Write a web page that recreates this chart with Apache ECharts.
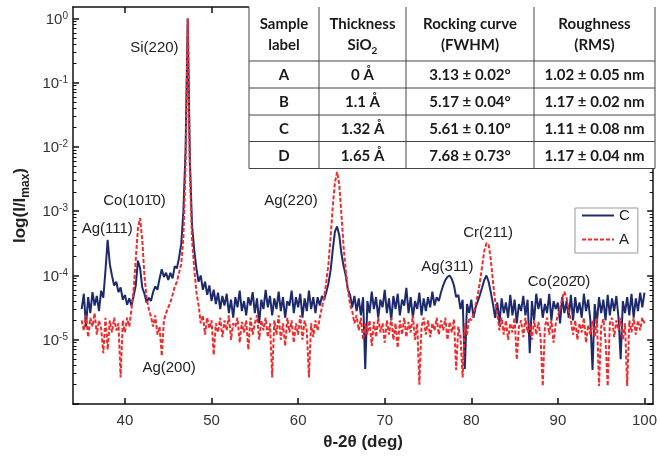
<!DOCTYPE html>
<html>
<head>
<meta charset="utf-8">
<script src="https://cdn.jsdelivr.net/npm/echarts@6/dist/echarts.min.js"></script>
<style>html,body{margin:0;padding:0;background:#fff}#c{width:660px;height:457px}</style>
</head>
<body>
<div id="c"></div>
<script>
// ---- data ----
const theta = [
35,35.25,35.5,35.75,36,36.25,36.5,36.75,37,37.25,37.5,37.75,38,38.25,38.5,38.75,39,39.25,39.5,39.75,
40,40.25,40.5,40.75,41,41.25,41.5,41.75,42,42.25,42.5,42.75,43,43.25,43.5,43.75,44,44.25,44.5,44.75,
45,45.25,45.5,45.75,46,46.25,46.5,46.75,47,47.25,47.5,47.75,48,48.25,48.5,48.75,49,49.25,49.5,49.75,
50,50.25,50.5,50.75,51,51.25,51.5,51.75,52,52.25,52.5,52.75,53,53.25,53.5,53.75,54,54.25,54.5,54.75,
55,55.25,55.5,55.75,56,56.25,56.5,56.75,57,57.25,57.5,57.75,58,58.25,58.5,58.75,59,59.25,59.5,59.75,
60,60.25,60.5,60.75,61,61.25,61.5,61.75,62,62.25,62.5,62.75,63,63.25,63.5,63.75,64,64.25,64.5,64.75,
65,65.25,65.5,65.75,66,66.25,66.5,66.75,67,67.25,67.5,67.75,68,68.25,68.5,68.75,69,69.25,69.5,69.75,
70,70.25,70.5,70.75,71,71.25,71.5,71.75,72,72.25,72.5,72.75,73,73.25,73.5,73.75,74,74.25,74.5,74.75,
75,75.25,75.5,75.75,76,76.25,76.5,76.75,77,77.25,77.5,77.75,78,78.25,78.5,78.75,79,79.25,79.5,79.75,
80,80.25,80.5,80.75,81,81.25,81.5,81.75,82,82.25,82.5,82.75,83,83.25,83.5,83.75,84,84.25,84.5,84.75,
85,85.25,85.5,85.75,86,86.25,86.5,86.75,87,87.25,87.5,87.75,88,88.25,88.5,88.75,89,89.25,89.5,89.75,
90,90.25,90.5,90.75,91,91.25,91.5,91.75,92,92.25,92.5,92.75,93,93.25,93.5,93.75,94,94.25,94.5,94.75,
95,95.25,95.5,95.75,96,96.25,96.5,96.75,97,97.25,97.5,97.75,98,98.25,98.5,98.75,99,99.25,99.5,99.75,
100
];
const sampleC = [
3.0e-5,5.2e-5,1.6e-5,4.6e-5, 2.6e-5,5.5e-5,3.4e-5,4.8e-5, 2.8e-5,5.8e-5,4.5e-5,1.2e-4, 3.6e-4,1.5e-4,1.0e-4,7.0e-5, 8.0e-5,5.5e-5,6.5e-5,4.2e-5,
5.0e-5,3.5e-5,4.4e-5,3.4e-5, 4.8e-5,7.0e-5,1.7e-4,1.3e-4, 6.5e-5,5.2e-5,3.8e-5,4.5e-5, 4.0e-5,5.5e-5,6.8e-5,6.0e-5, 9.0e-5,1.25e-4,9.5e-5,1.1e-4,
8.5e-5,1.1e-4,9.0e-5,1.4e-4, 1.3e-4,1.9e-4,3.1e-4,1.0e-3, 9.0e-3,1.0,6.0e-3,6.0e-4, 2.5e-4,1.3e-4,8.0e-5,1.0e-4, 6.0e-5,8.0e-5,5.0e-5,7.0e-5,
4.0e-5,6.0e-5,3.6e-5,5.4e-5, 3.0e-5,4.8e-5,3.4e-5,5.2e-5, 2.6e-5,4.2e-5,2.2e-5,4.6e-5, 3.2e-5,5.8e-5,2.8e-5,4.0e-5, 2.4e-5,4.6e-5,3.4e-5,5.5e-5,
2.6e-5,4.4e-5,1.8e-5,4.2e-5, 3.0e-5,6.0e-5,3.2e-5,4.8e-5, 2.4e-5,4.4e-5,3.0e-5,5.6e-5, 2.8e-5,4.6e-5,2.2e-5,4.0e-5, 3.4e-5,5.8e-5,2.6e-5,4.6e-5,
3.2e-5,5.2e-5,2.2e-5,4.4e-5, 2.8e-5,5.8e-5,3.0e-5,4.6e-5, 2.6e-5,4.6e-5,3.4e-5,4.8e-5, 4.2e-5,5.5e-5,7.5e-5,1.2e-4, 2.5e-4,4.8e-4,5.8e-4,4.2e-4,
2.2e-4,1.4e-4,1.0e-4,6.0e-5, 5.0e-5,3.2e-5,4.8e-5,2.8e-5, 4.4e-5,2.4e-5,4.6e-5,3.5e-6, 4.0e-5,2.6e-5,5.6e-5,3.0e-5, 4.6e-5,2.2e-5,4.2e-5,3.2e-5,
6.0e-5,2.6e-5,4.4e-5,2.0e-5, 4.8e-5,3.0e-5,5.2e-5,2.4e-5, 4.2e-5,3.4e-5,6.4e-5,2.6e-5, 4.6e-5,2.2e-5,4.0e-5,3.0e-5, 5.4e-5,2.4e-5,4.4e-5,2.8e-5,
4.6e-5,3.2e-5,5.6e-5,3.4e-5, 4.6e-5,4.0e-5,5.5e-5,7.0e-5, 8.5e-5,9.5e-5,1.0e-4,8.8e-5, 7.0e-5,4.6e-5,5.0e-5,3.0e-5, 4.2e-5,3.5e-6,3.6e-5,2.6e-5,
4.2e-5,2.2e-5,3.2e-5,4.0e-5, 5.0e-5,6.5e-5,8.5e-5,1.0e-4, 8.0e-5,5.5e-5,3.6e-5,2.2e-5, 3.8e-5,1.8e-5,4.4e-5,2.6e-5, 3.8e-5,2.2e-5,5.0e-5,2.4e-5,
4.2e-5,1.8e-5,3.6e-5,2.8e-5, 4.8e-5,2.4e-5,4.2e-5,6.2e-6, 4.0e-5,2.0e-5,5.2e-5,3.0e-5, 4.4e-5,2.2e-5,3.6e-5,2.6e-5, 5.2e-5,2.0e-5,4.0e-5,3.0e-5,
3.8e-5,1.8e-5,4.6e-5,2.6e-5, 4.0e-5,2.2e-5,5.0e-5,2.0e-5, 4.6e-5,2.6e-5,3.8e-5,2.2e-5, 5.2e-5,2.8e-5,4.2e-5,2.0e-5, 3.4e-6,3.6e-5,1.8e-5,4.6e-5,
2.6e-5,4.2e-5,2.0e-5,5.0e-5, 2.4e-5,4.4e-5,2.8e-5,4.8e-5, 2.2e-5,5.0e-6,4.0e-5,2.6e-5, 4.6e-5,2.4e-5,5.2e-5,2.2e-5, 4.4e-5,2.8e-5,5.4e-5,3.2e-5,
5.4e-5
];
const sampleA = [
2.0e-5,1.4e-5,2.4e-5,1.1e-5, 2.2e-5,1.6e-5,2.6e-5,1.2e-5, 2.0e-5,1.5e-5,6.2e-6,2.2e-5, 7.0e-6,2.0e-5,1.3e-5,2.2e-5, 1.4e-5,1.8e-5,2.6e-6,2.0e-5,
1.3e-5,2.2e-5,1.6e-5,3.0e-5, 6.0e-5,1.8e-4,5.5e-4,7.8e-4, 3.5e-4,1.0e-4,4.5e-5,3.0e-5, 2.3e-5,1.6e-5,2.4e-5,1.2e-5, 1.6e-5,5.6e-6,2.0e-5,2.6e-5,
3.2e-5,3.8e-5,5.0e-5,6.7e-5, 8.0e-5,1.1e-4,1.5e-4,4.0e-4, 5.0e-3,1.0,4.0e-3,3.5e-4, 1.3e-4,5.5e-5,3.5e-5,1.8e-5, 2.4e-5,1.2e-5,2.2e-5,1.5e-5,
2.0e-5,5.8e-6,1.8e-5,1.3e-5, 2.2e-5,1.1e-5,2.0e-5,1.4e-5, 2.4e-5,1.0e-5,1.8e-5,1.6e-5, 2.2e-5,9.0e-6,1.9e-5,1.3e-5, 2.0e-5,7.0e-6,2.2e-5,1.2e-5,
1.8e-5,2.4e-5,1.0e-5,2.0e-5, 1.4e-5,2.2e-5,1.1e-5,1.8e-5, 2.6e-6,2.0e-5,1.2e-5,2.4e-5, 1.0e-5,1.8e-5,8.0e-6,2.2e-5, 1.3e-5,2.0e-5,9.0e-6,1.8e-5,
1.2e-5,2.4e-5,1.0e-5,2.0e-5, 1.4e-5,2.6e-6,1.8e-5,1.1e-5, 2.0e-5,1.4e-5,2.2e-5,3.2e-5, 4.5e-5,8.0e-5,1.5e-4,4.0e-4, 1.2e-3,2.8e-3,4.1e-3,2.6e-3,
9.0e-4,2.8e-4,1.2e-4,6.0e-5, 3.5e-5,2.8e-5,1.8e-5,2.4e-5, 1.4e-5,2.2e-5,1.0e-5,1.8e-5, 1.2e-5,2.0e-5,8.0e-6,1.9e-5, 1.1e-5,2.2e-5,1.3e-5,1.8e-5,
9.0e-6,2.0e-5,1.2e-5,2.2e-5, 1.0e-5,1.8e-5,7.5e-6,2.0e-5, 1.2e-5,2.2e-5,1.1e-5,1.9e-5, 1.3e-5,2.4e-5,1.0e-5,1.8e-5, 2.0e-6,1.6e-5,2.2e-5,1.2e-5,
2.0e-5,1.1e-5,1.8e-5,1.4e-5, 2.2e-5,1.2e-5,2.0e-5,1.4e-5, 2.2e-5,1.0e-5,1.9e-5,1.3e-5, 2.1e-5,3.4e-6,1.6e-5,1.1e-5, 2.6e-6,1.8e-5,1.2e-5,2.2e-5,
2.0e-5,2.5e-5,3.5e-5,5.0e-5, 8.0e-5,1.4e-4,2.4e-4,3.2e-4, 3.0e-4,1.8e-4,8.0e-5,4.0e-5, 2.5e-5,1.4e-5,2.2e-5,1.2e-5, 2.0e-5,1.0e-5,1.8e-5,1.3e-5,
2.2e-5,4.9e-6,1.6e-5,2.0e-5, 1.1e-5,2.2e-5,1.3e-5,1.8e-5, 1.0e-5,2.0e-5,1.2e-5,1.9e-5, 1.1e-5,1.9e-6,1.6e-5,2.2e-5, 1.2e-5,2.0e-5,9.0e-6,1.8e-5,
2.4e-5,3.0e-5,4.5e-5,5.6e-5, 4.5e-5,2.8e-5,2.0e-5,1.2e-5, 2.0e-5,1.0e-5,1.8e-5,1.3e-5, 2.2e-5,9.0e-6,1.7e-5,1.2e-5, 2.0e-5,1.1e-5,2.2e-5,1.9e-6,
1.6e-5,2.1e-5,1.0e-5,1.9e-6, 1.8e-5,2.2e-5,1.1e-5,2.0e-5, 1.4e-5,2.2e-5,1.0e-5,1.8e-5, 1.9e-6,2.0e-5,1.3e-5,2.2e-5, 1.2e-5,2.0e-5,1.4e-5,2.2e-5,
1.8e-5
];
const seriesNames = ['C', 'A'];
const xTicks = [40, 50, 60, 70, 80, 90, 100];
const yMajor = [1e-6, 1e-5, 1e-4, 1e-3, 1e-2, 1e-1, 1];
const yLabelVals = [1e-5, 1e-4, 1e-3, 1e-2, 1e-1, 1];
const yMinor = [];
for (const d of [1e-6, 1e-5, 1e-4, 1e-3, 1e-2, 1e-1]) for (let m = 2; m <= 9; m++) yMinor.push(+(d * m).toPrecision(3));

// peak annotations (anchor in data coordinates)
const annText = ['Si(220)', 'Co(101\u03040)', 'Ag(111)', 'Ag(200)', 'Ag(220)', 'Ag(311)', 'Cr(211)', 'Co(202\u03040)'];
const annTheta = [43.4, 41.1, 37.95, 45.1, 59.17, 77.23, 81.94, 90.13];
const annValue = [0.344, 1.43e-3, 5.3e-4, 3.7e-6, 1.43e-3, 1.36e-4, 4.6e-4, 8.0e-5];

// inset table
const tableHead = [['Sample', 'label'], ['Thickness', 'SiO{sub|2}'], ['Rocking curve', '(FWHM)'], ['Roughness', '(RMS)']];
const tableRows = [
  ['A', '0 Å', '3.13 ± 0.02°', '1.02 ± 0.05 nm'],
  ['B', '1.1 Å', '5.17 ± 0.04°', '1.17 ± 0.02 nm'],
  ['C', '1.32 Å', '5.61 ± 0.10°', '1.11 ± 0.08 nm'],
  ['D', '1.65 Å', '7.68 ± 0.73°', '1.17 ± 0.04 nm']
];

// ---- chart ----
const FONT = '"Liberation Sans", Arial, Helvetica, sans-serif';
const TFONT = 'Lato, "Open Sans", sans-serif';
const chart = echarts.init(document.getElementById('c'), null, { renderer: 'canvas' });

const colX = [249, 319, 406, 534, 655];
const rowY = [7, 61, 88, 115, 141.5, 168.5];
const graphics = [];
graphics.push({ type: 'rect', z: 100, shape: { x: colX[0], y: 5, width: colX[4] - colX[0], height: rowY[5] - 5 }, style: { fill: '#fff' } });
colX.forEach(x => graphics.push({ type: 'line', z: 101, shape: { x1: x, y1: rowY[0], x2: x, y2: rowY[5] }, style: { stroke: '#444', lineWidth: 1 } }));
rowY.slice(1).forEach(y => graphics.push({ type: 'line', z: 101, shape: { x1: colX[0], y1: y, x2: colX[4], y2: y }, style: { stroke: '#444', lineWidth: 1 } }));
tableHead.forEach((h, i) => {
  const cx = (colX[i] + colX[i + 1]) / 2;
  graphics.push({ type: 'text', z: 102, x: cx, y: (rowY[0] + rowY[1]) / 2 + 1,
    style: { text: '{t|' + h[0] + '}\n{t|' + h[1].replace('{sub|2}', '}{sub|2}{t|') + '}', align: 'center', verticalAlign: 'middle', fill: '#1a1a1a',
      rich: { t: { fontFamily: TFONT, fontSize: 15, fontWeight: 'bold', lineHeight: 21, fill: '#1a1a1a' },
              sub: { fontFamily: TFONT, fontSize: 10, fontWeight: 'bold', lineHeight: 21, verticalAlign: 'bottom', fill: '#1a1a1a' } } } });
});
tableRows.forEach((r, j) => {
  r.forEach((t, i) => {
    graphics.push({ type: 'text', z: 102, x: (colX[i] + colX[i + 1]) / 2, y: (rowY[j + 1] + rowY[j + 2]) / 2 + 1,
      style: { text: t, align: 'center', verticalAlign: 'middle', fill: '#1a1a1a', font: 'bold 15px ' + TFONT } });
  });
});

const axisLineStyle = { color: '#111', width: 1.5 };
const option = {
  animation: false,
  backgroundColor: '#fff',
  grid: { left: 73, right: 3, top: 7, bottom: 53 },
  legend: {
    left: 575, top: 208, orient: 'vertical', padding: [0, 8, 6, 6], itemGap: 9,
    itemWidth: 32, itemHeight: 13, borderColor: '#999', borderWidth: 1, backgroundColor: '#fff',
    itemStyle: { opacity: 0 },
    textStyle: { fontFamily: FONT, fontSize: 15, color: '#222', lineHeight: 13 },
    data: seriesNames
  },
  xAxis: [
    { type: 'value', position: 'bottom', min: 34, max: 101,
      axisLine: { lineStyle: axisLineStyle },
      axisTick: { inside: true, length: 6, customValues: xTicks, lineStyle: { color: '#111', width: 1.5 } },
      axisLabel: { customValues: xTicks, margin: 9, fontFamily: FONT, fontSize: 15, color: '#333' },
      splitLine: { show: false },
      name: 'θ-2θ (deg)', nameLocation: 'middle', nameGap: 30,
      nameTextStyle: { fontFamily: FONT, fontSize: 17, fontWeight: 'bold', color: '#222' } },
    { type: 'value', position: 'top', min: 34, max: 101,
      axisLine: { lineStyle: axisLineStyle },
      axisTick: { inside: true, length: 6, customValues: xTicks, lineStyle: { color: '#111', width: 1.5 } },
      axisLabel: { show: false }, splitLine: { show: false } }
  ],
  yAxis: [
    { type: 'log', logBase: 10, position: 'left', min: 1e-6, max: 1.51,
      axisLine: { show: true, lineStyle: axisLineStyle },
      axisTick: { inside: true, length: 6, customValues: yMajor, lineStyle: { color: '#111', width: 1.5 } },
      axisLabel: { customValues: yLabelVals, margin: 5, color: '#333',
        formatter: v => '{b|10}{s|' + Math.round(Math.log10(v)) + '}',
        rich: { b: { fontFamily: FONT, fontSize: 15, color: '#333', lineHeight: 17, padding: [5, 0, 0, 0], verticalAlign: 'bottom' },
                s: { fontFamily: FONT, fontSize: 10, color: '#333', lineHeight: 10, padding: [1, 0, 0, 0], verticalAlign: 'top' } } },
      splitLine: { show: false },
      name: '{a|log(I/I}{b|max}{a|)}', nameLocation: 'middle', nameGap: 40, nameRotate: 90,
      nameTextStyle: { rich: { a: { fontFamily: FONT, fontSize: 17, fontWeight: 'bold', color: '#222', lineHeight: 20, verticalAlign: 'top' },
                                b: { fontFamily: FONT, fontSize: 12, fontWeight: 'bold', color: '#222', lineHeight: 12, padding: [10, 0, 0, 0], verticalAlign: 'bottom' } } } },
    { type: 'log', logBase: 10, position: 'left', min: 1e-6, max: 1.51,
      axisLine: { show: false },
      axisTick: { inside: true, length: 3.5, customValues: yMinor, lineStyle: { color: '#111', width: 1 } },
      axisLabel: { show: false }, splitLine: { show: false } },
    { type: 'log', logBase: 10, position: 'right', min: 1e-6, max: 1.51,
      axisLine: { show: true, lineStyle: axisLineStyle },
      axisTick: { inside: true, length: 6, customValues: yMajor, lineStyle: { color: '#111', width: 1.5 } },
      axisLabel: { show: false }, splitLine: { show: false } },
    { type: 'log', logBase: 10, position: 'right', min: 1e-6, max: 1.51,
      axisLine: { show: false },
      axisTick: { inside: true, length: 3.5, customValues: yMinor, lineStyle: { color: '#111', width: 1 } },
      axisLabel: { show: false }, splitLine: { show: false } }
  ],
  series: [
    { name: seriesNames[0], type: 'line', xAxisIndex: 0, yAxisIndex: 0, symbol: 'none', showSymbol: false,
      data: theta.map((t, i) => [t, sampleC[i]]),
      color: '#1e2a6e', lineStyle: { color: '#1e2a6e', width: 2 },
      markPoint: {
        symbol: 'circle', symbolSize: 0, silent: true,
        label: { show: true, position: 'inside', formatter: '{b}', fontFamily: FONT, fontSize: 15, color: '#222' },
        data: annText.map((t, i) => ({ name: t, coord: [annTheta[i], annValue[i]] }))
      } },
    { name: seriesNames[1], type: 'line', xAxisIndex: 0, yAxisIndex: 0, symbol: 'none', showSymbol: false,
      data: theta.map((t, i) => [t, sampleA[i]]),
      color: '#ef2b2b', lineStyle: { color: '#ef2b2b', width: 2, type: [4, 2] } }
  ],
  graphic: graphics
};
chart.setOption(option);
</script>
</body>
</html>
